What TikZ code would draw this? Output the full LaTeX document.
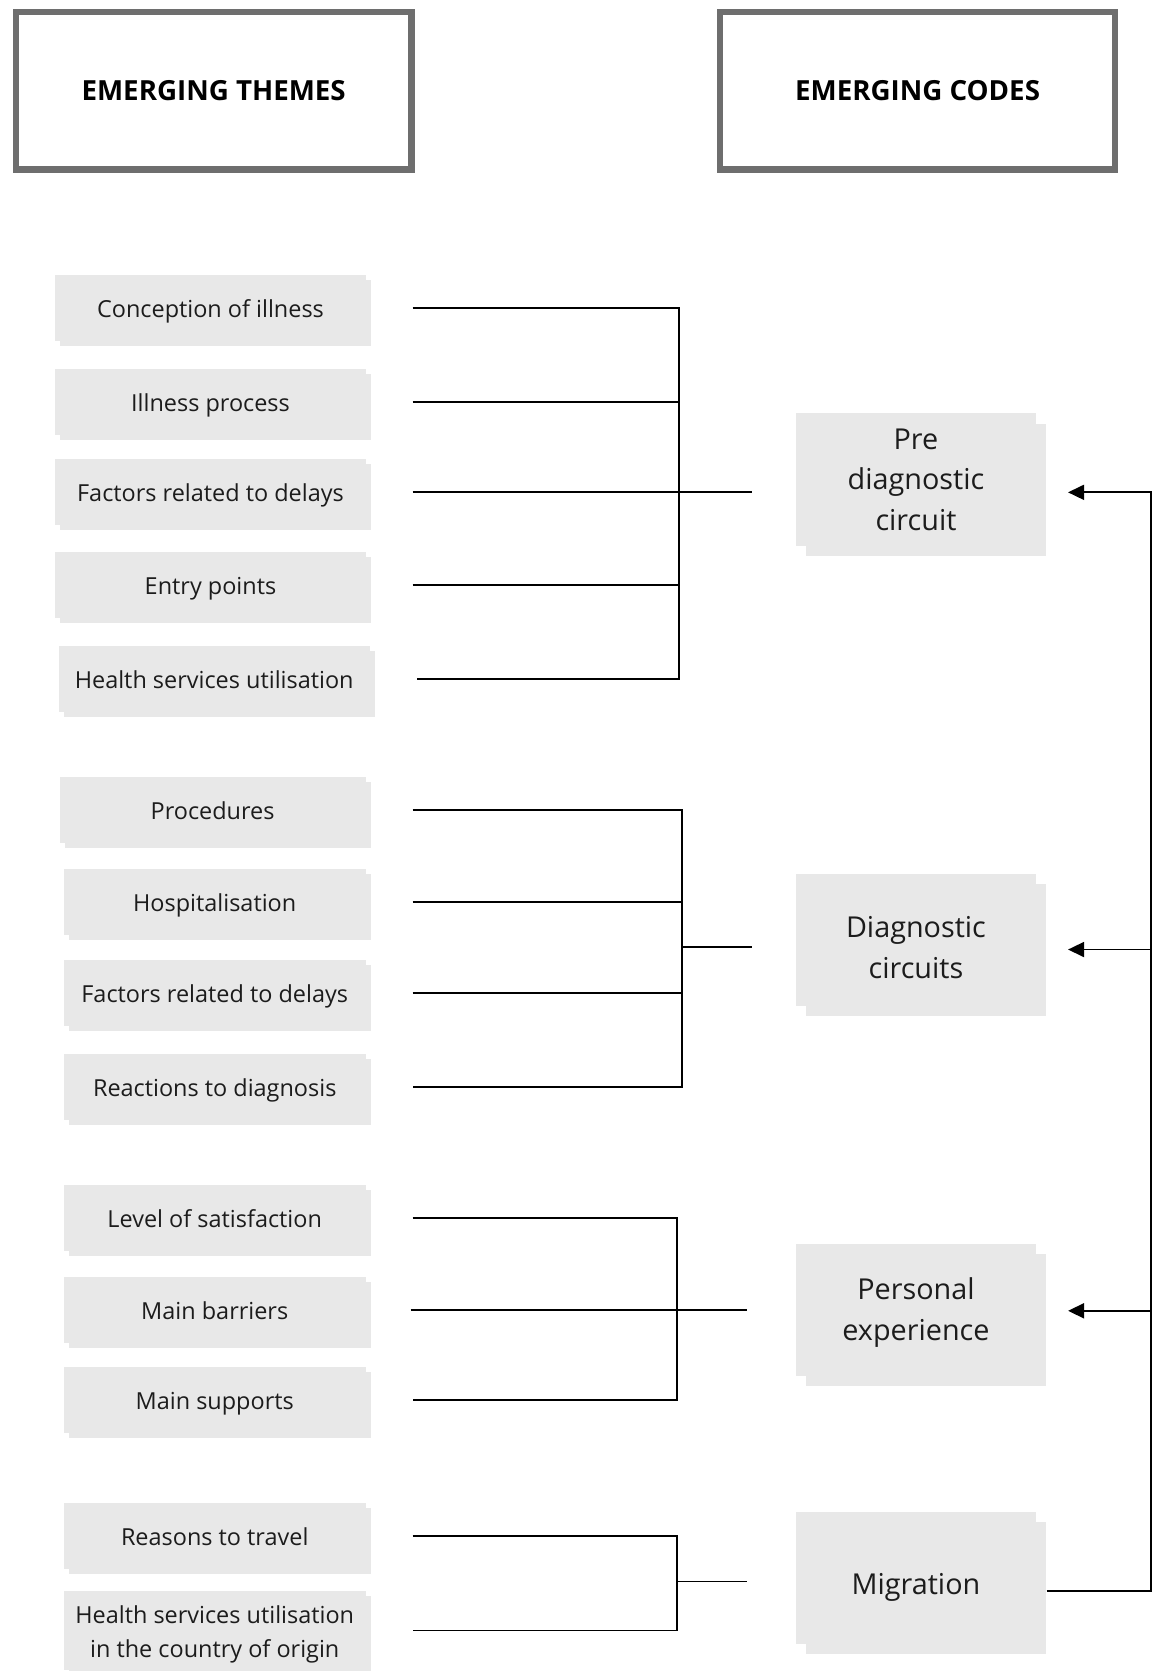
\documentclass[tikz,border=0pt]{standalone}
\usepackage{fontspec}
\setmainfont{Open Sans}
\usetikzlibrary{arrows.meta,shadows}
\definecolor{boxgray}{HTML}{E8E8E8}
\definecolor{framegray}{HTML}{6E6E6E}
\definecolor{inkgray}{HTML}{1C1C1C}

\begin{document}
\begin{tikzpicture}[x=1pt, y=-1pt,
  header/.style={draw=framegray, line width=6pt, minimum width=371pt, minimum height=148pt, font=\bfseries\fontsize{26}{30}\selectfont},
  theme/.style={fill=boxgray, minimum width=283pt, minimum height=62pt, inner sep=0pt, align=center, text=inkgray, text height=18pt, text depth=0pt, font=\fontsize{22}{31}\selectfont, copy shadow={shadow xshift=4.7pt, shadow yshift=-4.7pt, fill=boxgray, draw=none}},
  code/.style={fill=boxgray, minimum width=225pt, minimum height=124pt, inner sep=0pt, align=center, text=inkgray, font=\fontsize{27}{38}\selectfont, copy shadow={shadow xshift=9.4pt, shadow yshift=-9.4pt, fill=boxgray, draw=none}},
  drop/.style={execute at begin node={\rule{0pt}{#1}}},
  link/.style={line width=1.8pt},
  bracket/.style={link, shorten <=44pt, shorten >=44pt},
  arrow/.style={link, -{Triangle[length=15pt, width=14pt]}, shorten >=30pt}
]
\useasboundingbox (0,0) rectangle (1087,1568);

\node[header] (themes) at (200.5,85) {EMERGING THEMES};
\node[header] (codes) at (861,85) {EMERGING CODES};

\node[theme, minimum width=291pt] (conc) at (197.5,289) {Conception of illness};
\node[theme, minimum width=291pt] (illp) at (197.5,377) {Illness process};
\node[theme, minimum width=291pt] (fdel1) at (197.5,462) {Factors related to delays};
\node[theme, minimum width=291pt] (entr) at (197.5,549) {Entry points};
\node[theme, minimum width=292pt] (hsu) at (201,637) {Health services utilisation};
\node[theme, minimum width=287pt] (proc) at (199.5,760) {Procedures};
\node[theme] (hosp) at (201.5,846) {Hospitalisation};
\node[theme] (fdel2) at (201.5,932) {Factors related to delays};
\node[theme] (reac) at (201.5,1020) {Reactions to diagnosis};
\node[theme] (levs) at (201.5,1143) {Level of satisfaction};
\node[theme] (mbar) at (201.5,1229) {Main barriers};
\node[theme] (msup) at (201.5,1314) {Main supports};
\node[theme] (rtra) at (201.5,1441) {Reasons to travel};
\node[theme, text height=, text depth=, minimum height=74pt, drop=55pt] (hsco) at (201.5,1530) {Health services utilisation\\in the country of origin};

\node[code] (pre) at (859.5,450) {Pre\\diagnostic\\circuit};
\node[code, drop=72pt] (diag) at (859.5,882) {Diagnostic\\circuits};
\node[code, drop=64pt] (pers) at (859.5,1229) {Personal\\experience};
\node[code, drop=37pt] (migr) at (859.5,1481) {Migration};

\coordinate (j1) at (637,462);
\coordinate (j2) at (640,889);
\coordinate (j3) at (635,1229);
\coordinate (j4) at (635,1484);
\coordinate (r1) at (1080,462);
\coordinate (r2) at (1080,891);
\coordinate (r3) at (1080,1230);
\coordinate (r4) at (1080,1493);

\draw[bracket] (conc.east) -| (j1) |- (hsu.east);
\draw[link, shorten <=44pt] (illp.east) -- (illp.east -| j1);
\draw[link, shorten <=44pt] (entr.east) -- (entr.east -| j1);
\draw[link, shorten <=44pt, shorten >=41pt] (fdel1.east) -- (fdel1.east -| pre.west);

\draw[bracket] (proc.east) -| (j2) |- (reac.east);
\draw[link, shorten <=44pt] (hosp.east) -- (hosp.east -| j2);
\draw[link, shorten <=44pt] (fdel2.east) -- (fdel2.east -| j2);
\draw[link, shorten >=41pt] (j2) -- (j2 -| diag.west);

\draw[bracket] (levs.east) -| (j3) |- (msup.east);
\draw[link, shorten <=42pt, shorten >=46pt] (mbar.east) -- (mbar.east -| pers.west);

\draw[bracket] (rtra.east) -| (j4) |- (hsco.east);
\draw[link, shorten >=46pt] (j4) -- (j4 -| migr.west);

\draw[arrow, shorten <=10pt] (r4 -| migr.east) -- (r4) -- (r1) -- (r1 -| pre.east);
\draw[arrow] (r2) -- (r2 -| diag.east);
\draw[arrow] (r3) -- (r3 -| pers.east);
\end{tikzpicture}
\end{document}
